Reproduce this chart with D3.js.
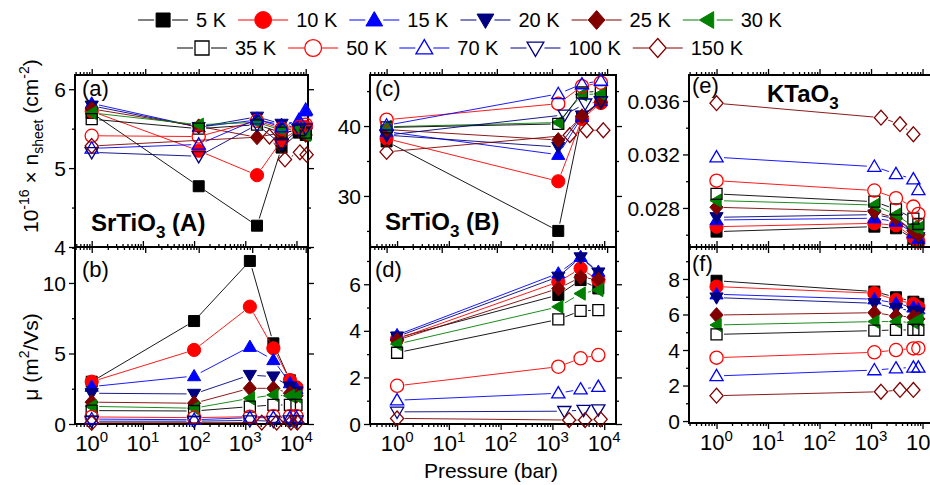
<!DOCTYPE html>
<html><head><meta charset="utf-8">
<script src="https://cdn.jsdelivr.net/npm/d3@7"></script>
<style>
body{margin:0;background:#fff}
text{font-family:"Liberation Sans",Arial,sans-serif;fill:#000}
</style>
</head><body>
<svg id="c" width="930" height="485" xmlns="http://www.w3.org/2000/svg"></svg>
<script>
// ---------------- DATA ----------------
const seriesNames  = ["5 K","10 K","15 K","20 K","25 K","30 K","35 K","50 K","70 K","100 K","150 K"];
const seriesColors = ["#000000","#ff0000","#0000ff","#000080","#800000","#008000","#000000","#ff0000","#0000ff","#000080","#800000"];
const seriesShapes = ["square","circle","up","down","diamond","left","square","circle","up","down","diamond"];
const seriesFilled = [true,true,true,true,true,true,false,false,false,false,false];

// pressures (bar)
const pressAB     = [1, 100, 1230, 3540, 7450, 10000];
const pressAB150K = [1, 2100, 4100, 7800, 10400];
const pressCD     = [1, 1300, 3500, 7700];
const pressCD100K = [1, 1700, 4000, 7700];
const pressCD150K = [1, 2100, 4270, 8530];
const pressEF     = [1, 1160, 3050, 6640, 8300];
const pressEF150K = [1, 1560, 3650, 6640];

// (a) SrTiO3 (A): 1e-16 x n_sheet (cm^-2)
const nSheetA = [
  [5.70, 4.77, 4.27, 5.26, 5.45, 5.42],
  [5.72, 5.22, 4.91, 5.35, 5.50, 5.52],
  [5.82, 5.52, 5.61, 5.55, 5.60, 5.72],
  [5.79, 5.52, 5.65, 5.56, 5.50, 5.45],
  [5.75, 5.53, 5.39, 5.45, 5.48, 5.42],
  [5.70, 5.55, 5.58, 5.48, 5.50, 5.42],
  [5.62, 5.50, 5.55, 5.45, 5.48, 5.45],
  [5.41, 5.40, 5.60, 5.50, 5.52, 5.55],
  [5.25, 5.30, 5.62, 5.52, 5.61, 5.74],
  [5.20, 5.15, 5.55, 5.30, 5.49, 5.50],
  [5.28, 5.40, 5.11, 5.20, 5.17]
];
// (b) SrTiO3 (A): mobility (m^2/Vs)
const mobilityB = [
  [3.00, 7.30, 11.56, 5.72, 3.10, 2.45],
  [3.00, 5.25, 8.32, 5.37, 3.12, 2.60],
  [2.65, 3.40, 5.48, 4.54, 2.90, 2.50],
  [2.18, 2.13, 3.47, 3.36, 2.65, 2.30],
  [1.55, 1.47, 2.53, 2.53, 2.18, 2.00],
  [1.25, 1.12, 1.82, 2.06, 2.00, 1.95],
  [0.95, 0.92, 1.23, 1.35, 1.35, 1.35],
  [0.50, 0.45, 0.52, 0.55, 0.55, 0.55],
  [0.35, 0.30, 0.45, 0.45, 0.45, 0.45],
  [0.20, 0.20, 0.25, 0.20, 0.25, 0.25],
  [0.08, 0.10, 0.10, 0.10, 0.10]
];
// (c) SrTiO3 (B): 1e-16 x n_sheet (cm^-2)
const nSheetC = [
  [37.8, 25.0, 41.3, 43.5],
  [38.2, 32.1, 41.0, 43.3],
  [39.2, 35.9, 41.3, 43.6],
  [38.7, 37.0, 41.5, 43.6],
  [39.5, 38.0, 41.4, 43.4],
  [39.9, 40.5, 44.5, 44.6],
  [39.8, 40.3, 44.8, 45.0],
  [40.9, 43.2, 45.7, 46.2],
  [40.1, 44.6, 46.0, 46.5],
  [38.7, 41.6, 43.2, 43.5],
  [36.3, 38.7, 39.4, 39.4]
];
// (d) SrTiO3 (B): mobility (m^2/Vs)
const mobilityD = [
  [3.70, 5.54, 6.18, 5.82],
  [3.65, 6.10, 6.68, 6.18],
  [3.82, 6.47, 7.18, 6.54],
  [3.75, 6.32, 7.15, 6.50],
  [3.60, 5.82, 6.30, 6.20],
  [3.43, 5.03, 5.60, 5.75],
  [3.06, 4.49, 4.86, 4.89],
  [1.64, 2.46, 2.82, 2.96],
  [1.02, 1.32, 1.49, 1.60],
  [0.52, 0.55, 0.60, 0.62],
  [0.24, 0.17, 0.17, 0.20]
];
// (e) KTaO3: 1e-16 x n_sheet (cm^-2)
const nSheetE = [
  [0.02623, 0.02660, 0.02648, 0.02570, 0.02550],
  [0.02660, 0.02685, 0.02670, 0.02580, 0.02548],
  [0.02710, 0.02723, 0.02698, 0.02610, 0.02570],
  [0.02730, 0.02750, 0.02720, 0.02620, 0.02580],
  [0.02805, 0.02772, 0.02723, 0.02630, 0.02600],
  [0.02855, 0.02822, 0.02750, 0.02660, 0.02650],
  [0.02905, 0.02847, 0.02790, 0.02720, 0.02680],
  [0.03004, 0.02930, 0.02873, 0.02810, 0.02755],
  [0.03179, 0.03109, 0.03054, 0.03015, 0.02935],
  [],
  [0.03583, 0.03475, 0.03426, 0.03351]
];
// (f) KTaO3: mobility (m^2/Vs)
const mobilityF = [
  [7.90, 7.29, 6.97, 6.72, 6.60],
  [7.57, 7.20, 6.82, 6.60, 6.40],
  [7.14, 6.86, 6.63, 6.40, 6.30],
  [6.95, 6.63, 6.35, 6.20, 6.10],
  [5.97, 6.10, 5.92, 5.85, 5.75],
  [5.41, 5.60, 5.60, 5.55, 5.70],
  [4.88, 5.09, 5.13, 5.13, 5.13],
  [3.57, 3.87, 4.00, 4.09, 4.10],
  [2.54, 2.87, 2.97, 3.02, 3.02],
  [],
  [1.43, 1.65, 1.75, 1.75]
];

const xTickExps = [0, 1, 2, 3, 4];

// ---------------- DRAWING ----------------
const svg = d3.select("#c");

function markerPath(shape, s) {
  switch (shape) {
    case "square":  return `M${-s},${-s}H${s}V${s}H${-s}Z`;
    case "up":      return `M0,${-s*1.2}L${s*1.2},${s*0.85}L${-s*1.2},${s*0.85}Z`;
    case "down":    return `M0,${s*1.2}L${s*1.2},${-s*0.85}L${-s*1.2},${-s*0.85}Z`;
    case "left":    return `M${-s*1.2},0L${s*0.85},${-s*1.2}L${s*0.85},${s*1.2}Z`;
    case "diamond": return `M0,${-s*1.35}L${s*1.2},0L0,${s*1.35}L${-s*1.2},0Z`;
  }
}
function drawMarker(g, i, cx, cy, s) {
  const col = seriesColors[i], filled = seriesFilled[i];
  let m;
  if (seriesShapes[i] === "circle") {
    m = g.append("circle").attr("cx", cx).attr("cy", cy).attr("r", s * 1.2);
  } else {
    m = g.append("path").attr("d", markerPath(seriesShapes[i], s))
      .attr("transform", `translate(${cx},${cy})`);
  }
  m.attr("fill", filled ? col : "none").attr("stroke", col)
   .attr("stroke-width", filled ? 1 : 1.3);
}

function pressuresFor(panel, i) {
  return (panel.pressBy && panel.pressBy[i]) || panel.press;
}

function drawPanel(p) {
  const g = svg.append("g");
  const x = d3.scaleLog().domain(p.xd).range([p.x0, p.x1]);
  const y = d3.scaleLinear().domain(p.yd).range([p.y1, p.y0]);

  // log ticks
  const xMajor = [], xMinor = [];
  for (let k = -1; k <= 5; k++) {
    for (let d = 1; d <= 9; d++) {
      const v = d * Math.pow(10, k);
      if (v >= p.xd[0] && v <= p.xd[1]) (d === 1 ? xMajor : xMinor).push(v);
    }
  }
  const axes = g.append("g");
  const mk = (gen, tr, vals, size) => {
    const a = axes.append("g").attr("transform", tr)
      .call(gen.tickValues(vals).tickSize(size).tickFormat(""));
    a.select(".domain").remove();
    a.selectAll("line").attr("stroke", "#000").attr("stroke-width", 1.3);
  };
  mk(d3.axisBottom(x), `translate(0,${p.y1})`, xMajor, 6);
  mk(d3.axisBottom(x), `translate(0,${p.y1})`, xMinor, 3);
  mk(d3.axisTop(x), `translate(0,${p.y0})`, xMajor, 6);
  mk(d3.axisTop(x), `translate(0,${p.y0})`, xMinor, 3);
  mk(d3.axisLeft(y), `translate(${p.x0},0)`, p.yMajor, 6);
  mk(d3.axisLeft(y), `translate(${p.x0},0)`, p.yMinor, 3);
  mk(d3.axisRight(y), `translate(${p.x1},0)`, p.yMajor, 6);
  mk(d3.axisRight(y), `translate(${p.x1},0)`, p.yMinor, 3);

  // y tick labels
  p.yMajor.forEach((v, k) => {
    g.append("text").attr("x", p.x0 - 9).attr("y", y(v)).attr("dy", "0.36em")
      .attr("text-anchor", "end").attr("font-size", 21).text(p.yLabels[k]);
  });
  // x tick labels
  if (p.xLabels) {
    xTickExps.forEach(e => {
      const v = Math.pow(10, e);
      const t = g.append("text").attr("x", x(v)).attr("y", p.y1 + 27)
        .attr("text-anchor", "middle").attr("font-size", 22);
      t.append("tspan").text("10");
      t.append("tspan").attr("dy", -9).attr("font-size", 15).text(String(e));
    });
  }

  // frame
  g.append("rect").attr("x", p.x0).attr("y", p.y0)
    .attr("width", p.x1 - p.x0).attr("height", p.y1 - p.y0)
    .attr("fill", "none").attr("stroke", "#000").attr("stroke-width", 2);

  // data
  const gap = 7.5;
  p.vals.forEach((vals, i) => {
    if (!vals.length) return;
    const pr = pressuresFor(p, i);
    const pts = vals.map((v, k) => [x(pr[k]), y(v)]);
    const sg = g.append("g");
    for (let k = 0; k < pts.length - 1; k++) {
      const [ax, ay] = pts[k], [bx, by] = pts[k + 1];
      const L = Math.hypot(bx - ax, by - ay);
      if (L <= 2 * gap) continue;
      const ux = (bx - ax) / L, uy = (by - ay) / L;
      sg.append("line")
        .attr("x1", ax + ux * gap).attr("y1", ay + uy * gap)
        .attr("x2", bx - ux * gap).attr("y2", by - uy * gap)
        .attr("stroke", seriesColors[i]).attr("stroke-width", 0.9);
    }
    pts.forEach(([cx, cy]) => drawMarker(sg, i, cx, cy, 5.5));
  });

  // panel letter
  g.append("text").attr("x", p.x0 + (p.letterDx || 7)).attr("y", p.y0 + (p.letterDy || 21))
    .attr("font-size", 22).text(p.letter);
}

const panels = [
  { letter: "(a)", x0: 75, x1: 308, y0: 75, y1: 247, xd: [0.487, 11040], yd: [4, 6.18],
    yMajor: [4, 5, 6], yMinor: [4.5, 5.5], yLabels: ["4", "5", "6"],
    press: pressAB, pressBy: {10: pressAB150K}, vals: nSheetA },
  { letter: "(b)", x0: 75, x1: 308, y0: 247, y1: 424, xd: [0.472, 16800], yd: [0, 12.55],
    yMajor: [0, 5, 10], yMinor: [2.5, 7.5, 12.5], yLabels: ["0", "5", "10"], xLabels: true,
    press: pressAB, pressBy: {10: pressAB150K}, vals: mobilityB, letterDy: 30 },
  { letter: "(c)", x0: 370, x1: 616, y0: 75, y1: 247, xd: [0.5, 14500], yd: [22.7, 47.3],
    yMajor: [30, 40], yMinor: [25, 35, 45], yLabels: ["30", "40"],
    press: pressCD, pressBy: {9: pressCD100K, 10: pressCD150K}, vals: nSheetC, letterDx: 5 },
  { letter: "(d)", x0: 370, x1: 616, y0: 247, y1: 424, xd: [0.3, 16900], yd: [0, 7.6],
    yMajor: [0, 2, 4, 6], yMinor: [1, 3, 5, 7], yLabels: ["0", "2", "4", "6"], xLabels: true,
    press: pressCD, pressBy: {9: pressCD100K, 10: pressCD150K}, vals: mobilityD, letterDy: 30, letterDx: 5 },
  { letter: "(e)", x0: 689, x1: 934, y0: 75, y1: 247, xd: [0.292, 16700], yd: [0.02508, 0.03794],
    yMajor: [0.028, 0.032, 0.036], yMinor: [0.026, 0.030, 0.034], yLabels: ["0.028", "0.032", "0.036"],
    press: pressEF, pressBy: {10: pressEF150K}, vals: nSheetE, letterDy: 18, letterDx: 3 },
  { letter: "(f)", x0: 689, x1: 934, y0: 247, y1: 423, xd: [0.292, 16700], yd: [-0.11, 9.8],
    yMajor: [0, 2, 4, 6, 8], yMinor: [1, 3, 5, 7, 9], yLabels: ["0", "2", "4", "6", "8"], xLabels: true,
    press: pressEF, pressBy: {10: pressEF150K}, vals: mobilityF, letterDy: 24, letterDx: 3 }
];
panels.forEach(drawPanel);

// material labels
function chemLabel(xp, yp, base, sub, rest) {
  const t = svg.append("text").attr("x", xp).attr("y", yp)
    .attr("font-size", 24).attr("font-weight", "bold");
  t.append("tspan").text(base);
  t.append("tspan").attr("dy", 7).attr("font-size", 17).text(sub);
  if (rest) t.append("tspan").attr("dy", -7).text(rest);
}
chemLabel(91, 231, "SrTiO", "3", " (A)");
chemLabel(385, 230, "SrTiO", "3", " (B)");
chemLabel(767, 102, "KTaO", "3", null);

// axis titles
{
  const t = svg.append("text").attr("transform", "translate(38,233) rotate(-90)").attr("font-size", 21);
  t.append("tspan").text("10");
  t.append("tspan").attr("dy", -9).attr("font-size", 14).text("-16");
  t.append("tspan").attr("dy", 9).text(" \u00d7 n");
  t.append("tspan").attr("dy", 5).attr("font-size", 14).text("sheet");
  t.append("tspan").attr("dy", -5).text(" (cm");
  t.append("tspan").attr("dy", -9).attr("font-size", 14).text("-2");
  t.append("tspan").attr("dy", 9).text(")");
}
{
  const t = svg.append("text").attr("transform", "translate(38,357) rotate(-90)")
    .attr("text-anchor", "middle").attr("font-size", 21);
  t.append("tspan").text("\u03bc (m");
  t.append("tspan").attr("dy", -9).attr("font-size", 14).text("2");
  t.append("tspan").attr("dy", 9).text("/Vs)");
}
svg.append("text").attr("x", 491).attr("y", 478).attr("text-anchor", "middle")
  .attr("font-size", 21).text("Pressure (bar)");

// legend
const legendRows = [[0, 1, 2, 3, 4, 5], [6, 7, 8, 9, 10]];
const legendY = [20, 48];
legendRows.forEach((row, r) => {
  const lg = svg.append("g");
  let xc = 0;
  row.forEach((i, k) => {
    const ig = lg.append("g");
    const tx = ig.append("text").attr("x", xc + 58).attr("y", legendY[r]).attr("dy", "0.36em")
      .attr("font-size", 20).text(seriesNames[i]);
    const w = tx.node().getComputedTextLength();
    ig.append("line").attr("x1", xc).attr("x2", xc + 16).attr("y1", legendY[r]).attr("y2", legendY[r])
      .attr("stroke", seriesColors[i]).attr("stroke-width", 1);
    ig.append("line").attr("x1", xc + 34).attr("x2", xc + 50).attr("y1", legendY[r]).attr("y2", legendY[r])
      .attr("stroke", seriesColors[i]).attr("stroke-width", 1);
    drawMarker(ig, i, xc + 25, legendY[r], 7);
    xc += 58 + w + (k < row.length - 1 ? 12 : 0);
  });
  lg.attr("transform", `translate(${460 - xc / 2},0)`);
});
</script>
</body></html>
